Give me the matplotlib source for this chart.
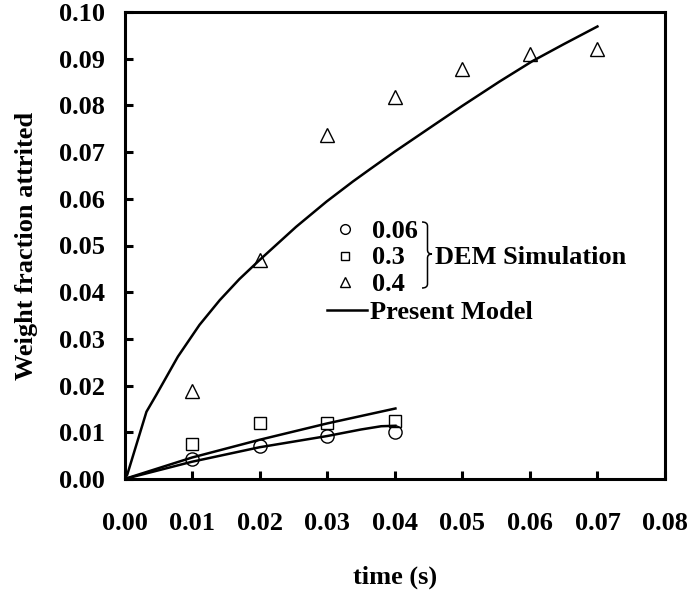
import matplotlib
matplotlib.use("Agg")
import matplotlib.pyplot as plt
from matplotlib.path import Path
from matplotlib.patches import PathPatch
from matplotlib.lines import Line2D

plt.rcParams['font.family'] = ['Liberation Serif', 'DejaVu Serif']
plt.rcParams['font.weight'] = 'bold'

# DEM simulation data
t_sim = [0.01, 0.02, 0.03, 0.04]
w_006 = [0.0042, 0.0071, 0.0093, 0.0101]
w_03 = [0.0075, 0.0119, 0.0119, 0.0124]
t_sim04 = [0.01, 0.02, 0.03, 0.04, 0.05, 0.06, 0.07]
w_04 = [0.0189, 0.0469, 0.0737, 0.0817, 0.0877, 0.0909, 0.0920]

# Present model curves
t_m04 = [0.0, 0.0004, 0.00325, 0.0047, 0.0079, 0.0111, 0.0141, 0.0170, 0.0200,
         0.0254, 0.0279, 0.0299, 0.0338, 0.0363, 0.0400, 0.0457, 0.0500,
         0.0555, 0.0604, 0.0650, 0.0700]
m_04 = [0.0, 0.0009, 0.0144, 0.0180, 0.0262, 0.0330, 0.0383, 0.0428, 0.0469,
        0.0540, 0.0570, 0.0594, 0.0637, 0.0663, 0.0701, 0.0757, 0.0799,
        0.0851, 0.0895, 0.0931, 0.0969]
t_m03 = [0.0, 0.010, 0.020, 0.030, 0.0401]
m_03 = [0.0, 0.0046, 0.0084, 0.0119, 0.0151]
t_m006 = [0.0, 0.010, 0.020, 0.030, 0.0350, 0.0380, 0.0401]
m_006 = [0.0, 0.0037, 0.0068, 0.0092, 0.0106, 0.0113, 0.0114]

xticks = [0.00, 0.01, 0.02, 0.03, 0.04, 0.05, 0.06, 0.07, 0.08]
yticks = [0.00, 0.01, 0.02, 0.03, 0.04, 0.05, 0.06, 0.07, 0.08, 0.09, 0.10]

W, H = 691, 592
fig = plt.figure(figsize=(W / 100, H / 100), dpi=100)
L, R, T, B = 124.5, 665, 12, 479
ax = fig.add_axes([L / W, (H - B) / H, (R - L) / W, (B - T) / H])

lw = 1.8
ax.plot(t_m04, m_04, color='black', lw=lw, zorder=2)
ax.plot(t_m03, m_03, color='black', lw=lw, zorder=2)
ax.plot(t_m006, m_006, color='black', lw=lw, zorder=2)

mk = dict(linestyle='none', markerfacecolor='none', markeredgecolor='black',
          markeredgewidth=1.0, zorder=3, clip_on=False)
ax.plot(t_sim, w_006, marker='o', markersize=9.5, **mk)
ax.plot(t_sim, w_03, marker='s', markersize=9, **mk)
ax.plot(t_sim04, w_04, marker='^', markersize=10.5, **mk)

ax.set_xlim(0, 0.08)
ax.set_ylim(0, 0.10)
ax.set_xticks(xticks)
ax.set_yticks(yticks)
ax.set_xticklabels([f"{v:.2f}" for v in xticks])
ax.set_yticklabels([f"{v:.2f}" for v in yticks])
ax.tick_params(direction='in', length=6, width=2.2, labelsize=19)
ax.tick_params(axis='x', pad=24)
ax.tick_params(axis='y', pad=14)
for s in ax.spines.values():
    s.set_linewidth(2.2)
for lab in ax.get_xticklabels() + ax.get_yticklabels():
    lab.set_fontweight('bold')

ax.set_xlabel('time (s)', fontsize=19, fontweight='bold', labelpad=22)
ax.set_ylabel('Weight fraction attrited', fontsize=19, fontweight='bold', labelpad=15)

# Legend (drawn manually in figure pixel coordinates)
def fx(px):
    return px / W

def fy(py):
    return (H - py) / H

legend_items = [('o', 7.0, '0.06', 229), ('s', 6.0, '0.3', 255.5), ('^', 7.5, '0.4', 282)]
for m, ms, lab, py in legend_items:
    fig.add_artist(Line2D([fx(345)], [fy(py)], marker=m, markersize=ms,
                          markerfacecolor='none', markeredgecolor='black',
                          markeredgewidth=1.0, linestyle='none',
                          transform=fig.transFigure))
    fig.text(fx(372), fy(py), lab, fontsize=19, fontweight='bold',
             ha='left', va='center_baseline')

fig.text(fx(435), fy(255.5), 'DEM Simulation', fontsize=19, fontweight='bold',
         ha='left', va='center_baseline')
fig.add_artist(Line2D([fx(327), fx(367)], [fy(310), fy(310)], color='black',
                      lw=lw, transform=fig.transFigure))
fig.text(fx(370), fy(310), 'Present Model', fontsize=19, fontweight='bold',
         ha='left', va='center_baseline')

# Curly brace
x0, x1, xm = 422, 427.5, 432
ytop, ymid, ybot = 222, 254, 288
verts = [
    (x0, ytop), (x1, ytop), (x1, ytop + 4), (x1, ytop + 8),
    (x1, ymid - 4), (x1, ymid), (xm, ymid),
    (x1, ymid), (x1, ymid + 4), (x1, ymid + 8),
    (x1, ybot - 4), (x1, ybot), (x0, ybot),
]
codes = [Path.MOVETO, Path.CURVE3, Path.CURVE3, Path.LINETO,
         Path.LINETO, Path.CURVE3, Path.CURVE3,
         Path.CURVE3, Path.CURVE3, Path.LINETO,
         Path.LINETO, Path.CURVE3, Path.CURVE3]
verts_f = [(fx(a), fy(b)) for a, b in verts]
fig.add_artist(PathPatch(Path(verts_f, codes), facecolor='none', edgecolor='black',
                         lw=1.1, transform=fig.transFigure))

fig.savefig('out.png', dpi=100)
